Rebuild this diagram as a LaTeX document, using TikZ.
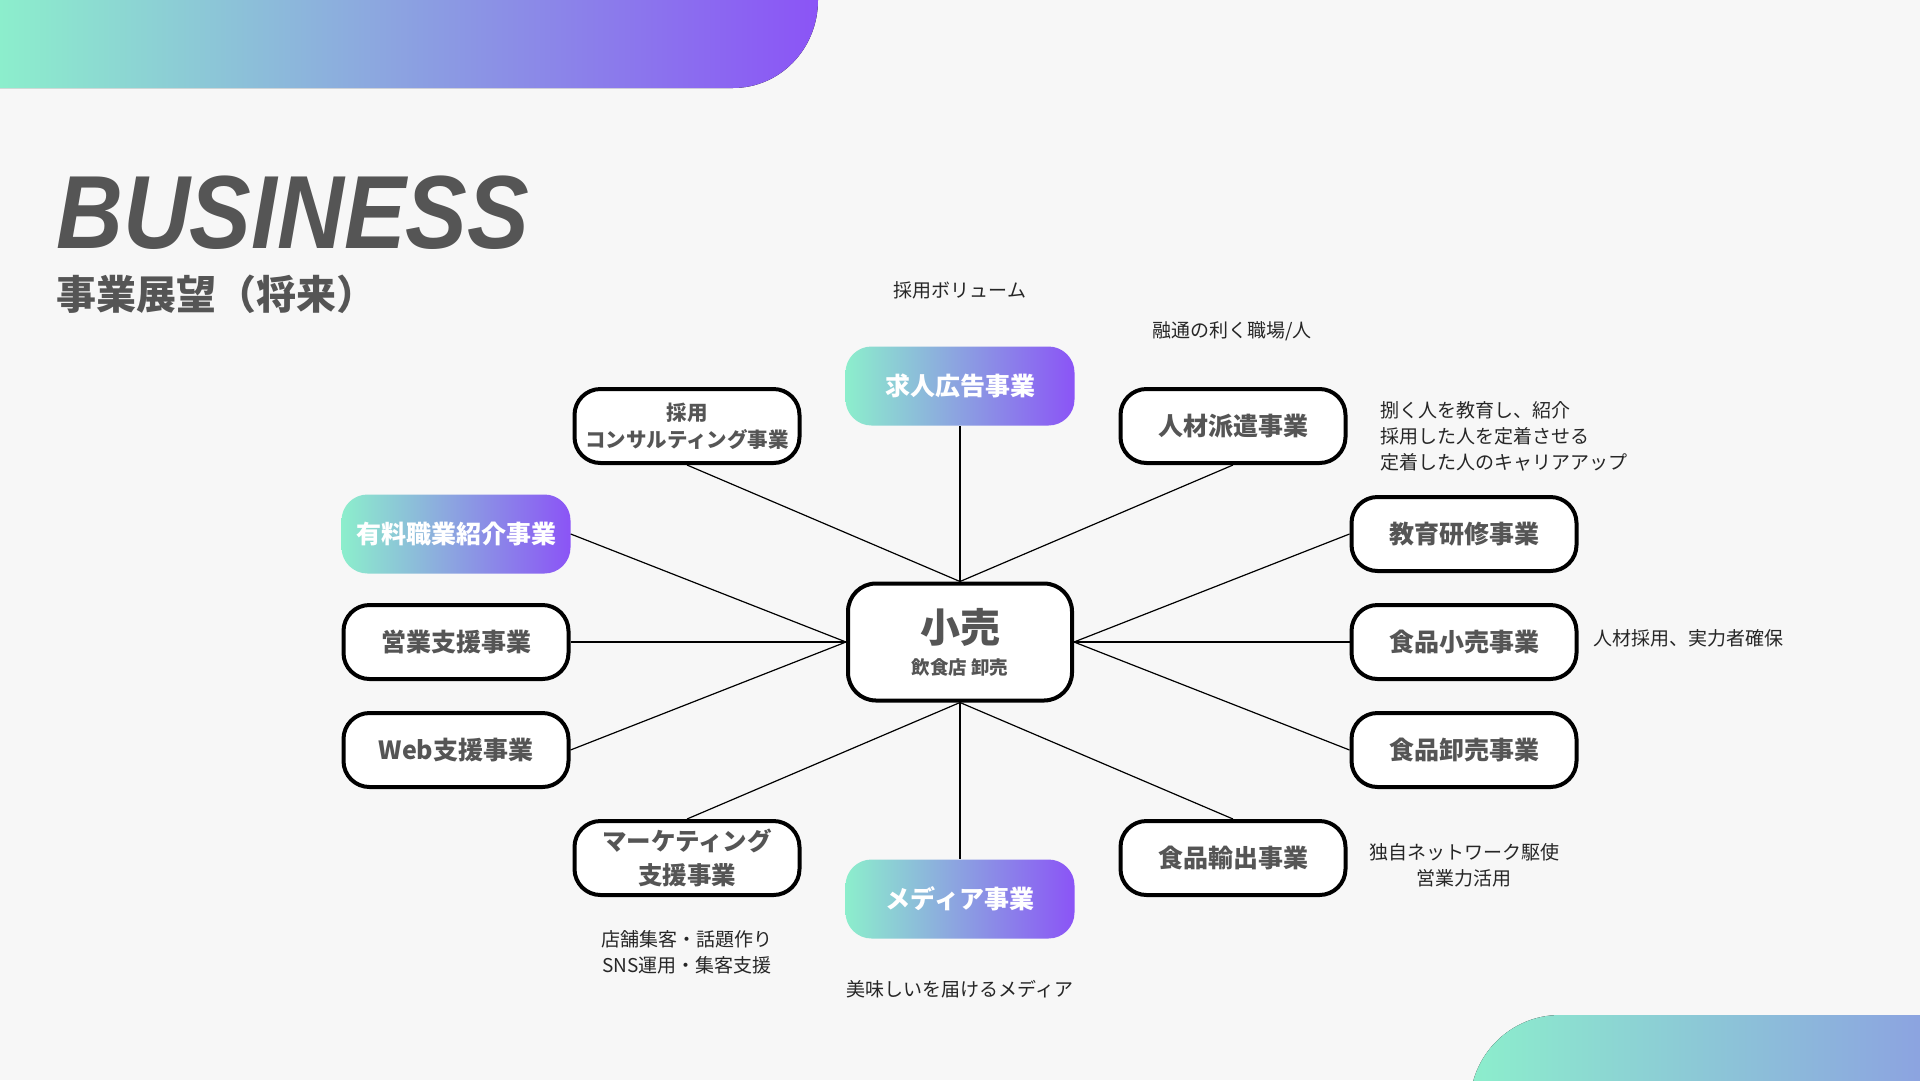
\documentclass[tikz,border=0pt]{standalone}
\usepackage{fontspec}
\setmainfont{Noto Sans CJK JP}
\newfontfamily\latinfont{Liberation Sans}[FakeStretch=0.89]
\definecolor{mint}{RGB}{140,238,204}
\definecolor{violet}{RGB}{139,84,246}
\definecolor{ink}{RGB}{85,85,85}
\definecolor{paper}{RGB}{247,247,247}
\tikzset{
  biz/.style={draw=black,line width=4pt,fill=white,rounded corners=26pt,minimum width=225pt,minimum height=74pt,
    align=center,text=ink,font=\fontsize{25}{30}\selectfont\bfseries},
  pick/.style={rounded corners=26pt,minimum width=229pt,minimum height=79pt,left color=mint,right color=violet,
    align=center,text=white,font=\fontsize{25}{30}\selectfont\bfseries},
  note/.style={inner sep=0pt,text=black!85,font=\fontsize{19}{26}\selectfont},
  link/.style={line width=1.2pt,black}
}
\begin{document}
\begin{tikzpicture}[x=1pt,y=-1pt]
  \clip (0,0) rectangle (1920,1080);
  \fill[paper] (0,0) rectangle (1920,1080);
  \fill[left color=mint,right color=violet] (0,0) -- (818,0) .. controls (818,49) and (780,88) .. (733,88) -- (0,88) -- cycle;
  \fill[left color=mint,right color=violet,rounded corners=90pt] (1470,1015) rectangle (2400,1300);

  \node[anchor=base west,inner sep=0pt,text depth=0pt,text=ink,font=\latinfont\fontsize{104}{110}\selectfont\bfseries\itshape] (title) at (56,248) {BUSINESS};
  \node[anchor=west,inner sep=0pt,text=ink,font=\fontsize{40}{44}\selectfont\bfseries] (subtitle) at (56,294) {事業展望（将来）};

  \node[biz,minimum width=224pt,minimum height=117pt,rounded corners=28pt] (core) at (960,642)
    {{\fontsize{40}{50}\selectfont 小売}\\[2pt]{\fontsize{18.5}{22}\selectfont 飲食店 卸売}};

  \node[pick] (ad) at (960,386) {求人広告事業};
  \node[pick] (media) at (960,899) {メディア事業};
  \node[pick] (agent) at (456,534) {有料職業紹介事業};
  \node[biz,font=\fontsize{20.5}{27}\selectfont\bfseries] (consult) at (687,426) {採用\\コンサルティング事業};
  \node[biz] (dispatch) at (1233,426) {人材派遣事業};
  \node[biz] (sales) at (456,642) {営業支援事業};
  \node[biz] (web) at (456,750) {Web支援事業};
  \node[biz] (edu) at (1464,534) {教育研修事業};
  \node[biz] (retail) at (1464,642) {食品小売事業};
  \node[biz] (whole) at (1464,750) {食品卸売事業};
  \node[biz,font=\fontsize{24.5}{34}\selectfont\bfseries] (mkt) at (687,858) {マーケティング\\支援事業};
  \node[biz] (export) at (1233,858) {食品輸出事業};

  \draw[link] (core.north) -- (ad.south);
  \draw[link] (core.north) -- (consult.south);
  \draw[link] (core.north) -- (dispatch.south);
  \draw[link] (core.west) -- (agent.east);
  \draw[link] (core.west) -- (sales.east);
  \draw[link] (core.west) -- (web.east);
  \draw[link] (core.east) -- (edu.west);
  \draw[link] (core.east) -- (retail.west);
  \draw[link] (core.east) -- (whole.west);
  \draw[link] (core.south) -- (mkt.north);
  \draw[link] (core.south) -- (media.north);
  \draw[link] (core.south) -- (export.north);

  \node[note] (volume) at (960,290) {採用ボリューム};
  \node[note] (flex) at (1232,331) {融通の利く職場/人};
  \node[note,anchor=west,align=left] (train) at (1380,436) {捌く人を教育し、紹介\\採用した人を定着させる\\定着した人のキャリアアップ};
  \node[note,anchor=west] (hire) at (1593,638) {人材採用、実力者確保};
  \node[note,align=center] (network) at (1464,865) {独自ネットワーク駆使\\営業力活用};
  \node[note,align=center] (promo) at (687,952) {店舗集客・話題作り\\SNS運用・集客支援};
  \node[note] (tasty) at (960,989) {美味しいを届けるメディア};
\end{tikzpicture}
\end{document}
